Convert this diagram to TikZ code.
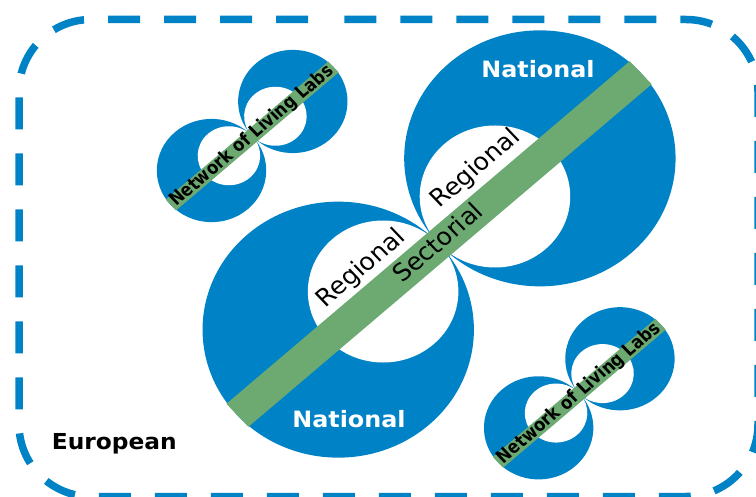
\documentclass[tikz,border=0pt]{standalone}
\usepackage{fontspec}
\setmainfont{DejaVu Sans}
\definecolor{eublue}{RGB}{0,130,198}
\definecolor{secgreen}{RGB}{108,170,114}
\tikzset{
  bigtext/.style={font=\fontsize{24}{28}\selectfont, text=black, inner sep=0pt, transform shape},
  nattext/.style={font=\bfseries\fontsize{22.5}{26}\selectfont, text=white, inner sep=0pt, transform shape},
  nlltext/.style={font=\bfseries\fontsize{18}{20}\selectfont, text=black, inner sep=0pt, transform shape, xscale=0.86},
  eutext/.style={font=\bfseries\fontsize{22}{26}\selectfont, text=black, inner sep=0pt, transform shape},
  borderline/.style={draw=eublue, line width=7.5pt, dash pattern=on 32pt off 24pt, dash phase=36pt, rounded corners=72pt},
}
\newcommand\eightfig[3]{%
  \fill[eublue] (-#1,0) circle[radius=#1] (#1,0) circle[radius=#1];
  \fill[white] (-#2,0) circle[radius=#2] (#2,0) circle[radius=#2];
  \fill[secgreen] (-2*#1,-#3/2) -- (2*#1,-#3/2) -- (2*#1,#3/2) -- (-2*#1,#3/2) -- cycle;
}
\begin{document}
\begin{tikzpicture}[x=1pt,y=1pt]
\useasboundingbox (0,0) rectangle (756,496);
\begin{scope}[xscale=1.06]
  \begin{scope}[shift={(414.2,252)}, rotate=42]
    \eightfig{128}{71}{31}
    \node[bigtext] (sect) at (0,2.5) {Sectorial};
    \node[bigtext, anchor=base] (regA) at (-71,24) {Regional};
    \node[bigtext, anchor=base] (regB) at (76,26) {Regional};
  \end{scope}
  \begin{scope}[shift={(237.9,360)}, rotate=42]
    \eightfig{51.6}{29.5}{14.5}
    \node[nlltext] (nllA) at (0,0) {Network of Living Labs};
  \end{scope}
  \begin{scope}[shift={(546.5,102.7)}, rotate=42]
    \eightfig{51.6}{29.5}{14.5}
    \node[nlltext] (nllB) at (0,0) {Network of Living Labs};
  \end{scope}
  \node[nattext, anchor=base] (natA) at (507.5,418.3) {National};
  \node[nattext, anchor=base] (natB) at (329.2,68.3) {National};
  \node[eutext, anchor=base west] (eu) at (48.8,46.7) {European};
\end{scope}
\draw[borderline] (400,476.5) -- (19,476.5) -- (19,-0.5) -- (758,-0.5) -- (758,476.5) -- cycle;
\end{tikzpicture}
\end{document}
